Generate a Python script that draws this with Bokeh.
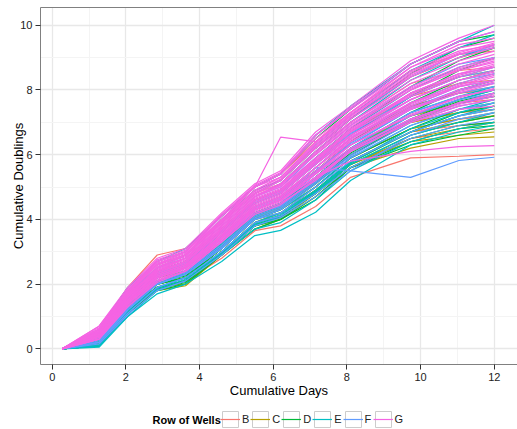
from bokeh.plotting import figure
from bokeh.layouts import column
from bokeh.models import (Range1d, SingleIntervalTicker, FixedTicker, Legend, LegendItem,
                          LinearAxis, Label)
from bokeh.embed import file_html
from bokeh.resources import INLINE

days = [0.27, 1.27, 2.05, 2.85, 3.62, 4.6, 5.5, 6.2, 7.15, 8.1, 9.73, 11.04, 12.0]
rows = ["B", "C", "D", "E", "F", "G"]
row_colors = ["#F8766D", "#B79F00", "#00BA38", "#00BFC4", "#619CFF", "#F564E3"]

B_doublings = [
    [0, 0.6, 1.9, 2.9, 3.1, 4.1, 5.0, 5.4, 6.4, 7.3, 8.6, 9.1, 9.2],
    [0, 0.5, 1.7, 2.6, 2.9, 3.9, 4.8, 5.1, 6.1, 7.0, 8.2, 8.6, 8.7],
    [0, 0.4, 1.6, 2.4, 2.7, 3.7, 4.6, 4.9, 5.8, 6.7, 7.8, 8.2, 8.3],
    [0, 0.3, 1.5, 2.3, 2.6, 3.5, 4.4, 4.7, 5.6, 6.5, 7.5, 7.9, 8.0],
    [0, 0.3, 1.4, 2.2, 2.5, 3.3, 4.2, 4.5, 5.3, 6.2, 7.2, 7.6, 7.7],
    [0, 0.2, 1.3, 2.1, 2.4, 3.2, 4.1, 4.4, 5.1, 6.1, 7.0, 7.3, 7.4],
    [0, 0.2, 1.3, 2.0, 2.3, 3.1, 4.0, 4.3, 5.0, 5.9, 6.8, 7.1, 7.2],
    [0, 0.2, 1.2, 2.0, 2.2, 3.0, 3.9, 4.2, 4.9, 5.8, 6.7, 6.9, 7.0],
    [0, 0.1, 1.2, 1.9, 2.2, 3.0, 3.9, 4.1, 4.8, 5.7, 6.5, 6.7, 6.8],
    [0, 0.1, 1.1, 1.8, 2.1, 2.8, 3.65, 3.8, 4.4, 5.3, 5.9, 5.95, 6.0],
]
C_doublings = [
    [0, 0.5, 1.7, 2.6, 2.9, 4.0, 4.9, 5.2, 6.2, 7.1, 8.4, 9.0, 9.3],
    [0, 0.4, 1.6, 2.4, 2.7, 3.7, 4.6, 4.9, 5.8, 6.7, 7.9, 8.4, 8.6],
    [0, 0.3, 1.5, 2.3, 2.6, 3.5, 4.4, 4.7, 5.5, 6.4, 7.5, 7.9, 8.1],
    [0, 0.3, 1.4, 2.2, 2.4, 3.3, 4.2, 4.5, 5.3, 6.2, 7.2, 7.6, 7.8],
    [0, 0.2, 1.3, 2.1, 2.3, 3.2, 4.1, 4.4, 5.1, 6.0, 7.0, 7.3, 7.5],
    [0, 0.2, 1.3, 2.0, 2.2, 3.1, 4.0, 4.3, 5.0, 5.9, 6.8, 7.1, 7.3],
    [0, 0.2, 1.2, 1.9, 2.1, 3.0, 3.9, 4.2, 4.9, 5.8, 6.7, 7.0, 7.2],
    [0, 0.1, 1.2, 1.9, 2.0, 3.0, 3.8, 4.1, 4.8, 5.7, 6.5, 6.8, 7.0],
    [0, 0.1, 1.1, 1.8, 1.95, 2.9, 3.8, 4.0, 4.8, 5.7, 6.4, 6.6, 6.7],
    [0, 0.2, 1.2, 1.9, 2.0, 2.9, 3.7, 4.0, 4.7, 5.6, 6.2, 6.5, 6.55],
]
D_doublings = [
    [0, 0.5, 1.8, 2.7, 3.0, 4.1, 5.0, 5.4, 6.5, 7.4, 8.8, 9.5, 9.7],
    [0, 0.4, 1.7, 2.5, 2.9, 3.9, 4.8, 5.2, 6.2, 7.1, 8.5, 9.3, 9.6],
    [0, 0.4, 1.6, 2.4, 2.7, 3.7, 4.6, 4.9, 5.9, 6.8, 8.1, 8.9, 9.3],
    [0, 0.3, 1.5, 2.3, 2.6, 3.6, 4.5, 4.8, 5.7, 6.6, 7.8, 8.6, 9.0],
    [0, 0.3, 1.4, 2.2, 2.5, 3.4, 4.3, 4.6, 5.5, 6.4, 7.6, 8.3, 8.6],
    [0, 0.2, 1.4, 2.1, 2.3, 3.3, 4.2, 4.5, 5.3, 6.2, 7.3, 8.0, 8.3],
    [0, 0.2, 1.3, 2.1, 2.3, 3.2, 4.1, 4.4, 5.2, 6.1, 7.1, 7.7, 8.0],
    [0, 0.2, 1.3, 2.0, 2.2, 3.1, 4.0, 4.3, 5.1, 6.0, 7.0, 7.6, 7.8],
    [0, 0.2, 1.2, 2.0, 2.2, 3.1, 4.0, 4.2, 5.0, 5.9, 6.8, 7.4, 7.6],
    [0, 0.1, 1.2, 1.9, 2.1, 3.0, 3.9, 4.1, 4.9, 5.8, 6.7, 7.2, 7.4],
    [0, 0.1, 1.1, 1.9, 2.1, 3.0, 3.8, 4.1, 4.8, 5.7, 6.6, 7.0, 7.2],
    [0, 0.1, 1.2, 1.9, 2.1, 2.9, 3.8, 4.0, 4.7, 5.6, 6.5, 6.9, 7.0],
    [0, 0.1, 1.1, 1.8, 2.0, 2.9, 3.7, 4.0, 4.6, 5.6, 6.4, 6.8, 6.9],
    [0, 0.2, 1.2, 1.9, 2.1, 3.0, 3.8, 4.1, 4.8, 5.6, 6.3, 6.6, 6.8],
    [0, 0.15, 1.15, 1.85, 2.05, 2.95, 3.85, 4.05, 4.85, 5.75, 6.7, 7.3, 7.5],
    [0, 0.25, 1.35, 2.05, 2.25, 3.15, 4.05, 4.35, 5.15, 6.05, 7.05, 7.65, 7.9],
]
E_doublings = [
    [0, 0.6, 1.9, 2.7, 3.1, 4.1, 5.0, 5.4, 6.6, 7.5, 8.8, 9.5, 10.0],
    [0, 0.5, 1.8, 2.6, 2.9, 4.0, 4.9, 5.2, 6.3, 7.2, 8.6, 9.3, 9.7],
    [0, 0.4, 1.7, 2.5, 2.8, 3.8, 4.7, 5.1, 6.1, 7.0, 8.3, 9.0, 9.4],
    [0, 0.4, 1.6, 2.4, 2.7, 3.7, 4.6, 4.9, 5.9, 6.8, 8.0, 8.7, 9.0],
    [0, 0.3, 1.5, 2.3, 2.6, 3.6, 4.5, 4.8, 5.7, 6.6, 7.8, 8.4, 8.7],
    [0, 0.3, 1.5, 2.2, 2.5, 3.5, 4.4, 4.7, 5.6, 6.5, 7.6, 8.2, 8.5],
    [0, 0.2, 1.4, 2.2, 2.5, 3.4, 4.3, 4.6, 5.5, 6.3, 7.4, 8.0, 8.3],
    [0, 0.2, 1.3, 2.1, 2.4, 3.3, 4.2, 4.5, 5.3, 6.2, 7.3, 7.8, 8.1],
    [0, 0.2, 1.3, 2.0, 2.3, 3.2, 4.1, 4.4, 5.2, 6.1, 7.1, 7.6, 7.9],
    [0, 0.2, 1.2, 2.0, 2.3, 3.1, 4.0, 4.3, 5.0, 5.9, 6.9, 7.4, 7.7],
    [0, 0.1, 1.2, 1.9, 2.2, 3.0, 3.9, 4.2, 4.9, 5.8, 6.7, 7.2, 7.5],
    [0, 0.1, 1.1, 1.9, 2.2, 3.0, 3.8, 4.1, 4.8, 5.7, 6.6, 7.0, 7.3],
    [0, 0.1, 1.0, 1.8, 2.1, 2.9, 3.7, 3.9, 4.6, 5.5, 6.4, 6.8, 7.0],
    [0, 0.05, 1.0, 1.7, 2.0, 2.7, 3.5, 3.66, 4.22, 5.2, 6.3, 6.7, 6.9],
    [0, 0.15, 1.15, 1.85, 2.15, 2.95, 3.85, 4.15, 4.85, 5.75, 6.8, 7.3, 7.6],
    [0, 0.25, 1.35, 2.05, 2.35, 3.25, 4.15, 4.45, 5.25, 6.15, 7.2, 7.7, 8.0],
]
F_doublings = [
    [0, 0.6, 1.8, 2.7, 3.0, 4.1, 5.0, 5.4, 6.6, 7.4, 8.8, 9.5, 9.8],
    [0, 0.5, 1.7, 2.5, 2.9, 3.9, 4.8, 5.2, 6.2, 7.1, 8.4, 9.1, 9.3],
    [0, 0.5, 1.6, 2.5, 2.8, 3.8, 4.7, 5.0, 6.0, 6.9, 8.1, 8.8, 9.0],
    [0, 0.4, 1.6, 2.4, 2.7, 3.7, 4.6, 4.9, 5.8, 6.7, 7.9, 8.5, 8.7],
    [0, 0.4, 1.5, 2.3, 2.6, 3.6, 4.5, 4.8, 5.7, 6.6, 7.7, 8.3, 8.5],
    [0, 0.4, 1.5, 2.3, 2.6, 3.5, 4.4, 4.7, 5.6, 6.5, 7.5, 8.1, 8.3],
    [0, 0.3, 1.4, 2.2, 2.5, 3.4, 4.3, 4.6, 5.5, 6.3, 7.4, 7.9, 8.1],
    [0, 0.3, 1.4, 2.2, 2.5, 3.4, 4.2, 4.5, 5.4, 6.2, 7.3, 7.8, 8.0],
    [0, 0.3, 1.3, 2.1, 2.4, 3.3, 4.2, 4.4, 5.3, 6.1, 7.2, 7.7, 7.9],
    [0, 0.3, 1.3, 2.1, 2.4, 3.2, 4.1, 4.4, 5.2, 6.0, 7.1, 7.6, 7.8],
    [0, 0.2, 1.2, 2.0, 2.3, 3.1, 4.0, 4.3, 5.1, 5.9, 6.9, 7.4, 7.6],
    [0, 0.2, 1.2, 2.0, 2.3, 3.1, 4.0, 4.2, 5.0, 5.8, 6.7, 7.2, 7.4],
    [0, 0.2, 1.1, 1.9, 2.2, 3.0, 3.9, 4.1, 4.8, 5.6, 6.5, 6.9, 7.1],
    [0, 0.3, 1.3, 2.1, 2.4, 3.3, 4.3, 4.6, 5.6, 5.5, 5.3, 5.82, 5.92],
    [0, 0.45, 1.55, 2.35, 2.65, 3.65, 4.55, 4.85, 5.75, 6.65, 7.8, 8.4, 8.6],
    [0, 0.35, 1.45, 2.25, 2.55, 3.45, 4.35, 4.65, 5.45, 6.35, 7.45, 8.0, 8.2],
    [0, 0.25, 1.25, 2.05, 2.35, 3.15, 4.05, 4.35, 5.15, 5.95, 7.0, 7.5, 7.7],
    [0, 0.15, 1.05, 1.8, 2.1, 2.9, 3.8, 4.05, 4.7, 5.5, 6.6, 7.1, 7.3],
]
G_doublings = [
    [0, 0.7, 1.9, 2.8, 3.1, 4.2, 5.1, 5.5, 6.7, 7.5, 8.9, 9.6, 10.0],
    [0, 0.7, 1.8, 2.7, 3.0, 4.1, 5.0, 5.4, 6.6, 7.4, 8.7, 9.3, 9.5],
    [0, 0.6, 1.8, 2.7, 3.0, 4.0, 5.0, 5.3, 6.4, 7.3, 8.6, 9.2, 9.4],
    [0, 0.6, 1.7, 2.6, 3.0, 4.0, 4.9, 5.3, 6.3, 7.2, 8.4, 9.0, 9.3],
    [0, 0.6, 1.8, 2.6, 2.9, 3.9, 4.8, 5.2, 6.2, 7.1, 8.3, 8.9, 9.2],
    [0, 0.5, 1.7, 2.6, 2.9, 3.9, 4.8, 5.1, 6.1, 7.0, 8.1, 8.7, 9.0],
    [0, 0.6, 1.6, 2.5, 2.8, 3.8, 4.7, 5.1, 6.0, 6.9, 8.0, 8.6, 8.9],
    [0, 0.5, 1.6, 2.5, 2.8, 3.8, 4.7, 5.0, 5.9, 6.8, 7.9, 8.5, 8.8],
    [0, 0.5, 1.7, 2.4, 2.8, 3.7, 4.6, 4.9, 5.8, 6.8, 7.8, 8.4, 8.7],
    [0, 0.5, 1.6, 2.4, 2.7, 3.7, 4.6, 4.9, 5.8, 6.7, 7.7, 8.3, 8.6],
    [0, 0.5, 1.5, 2.4, 2.7, 3.6, 4.5, 4.8, 5.7, 6.6, 7.6, 8.2, 8.5],
    [0, 0.4, 1.6, 2.3, 2.6, 3.6, 4.5, 4.8, 5.7, 6.5, 7.5, 8.1, 8.4],
    [0, 0.5, 1.5, 2.3, 2.6, 3.5, 4.4, 4.7, 5.6, 6.4, 7.4, 8.0, 8.3],
    [0, 0.4, 1.4, 2.3, 2.6, 3.5, 4.4, 4.7, 5.5, 6.4, 7.4, 7.9, 8.2],
    [0, 0.4, 1.5, 2.2, 2.5, 3.4, 4.3, 4.6, 5.4, 6.3, 7.2, 7.8, 8.0],
    [0, 0.4, 1.4, 2.2, 2.5, 3.4, 4.3, 4.6, 5.4, 6.2, 7.1, 7.6, 7.9],
    [0, 0.3, 1.4, 2.1, 2.4, 3.3, 4.2, 4.5, 5.2, 6.1, 7.0, 7.5, 7.7],
    [0, 0.4, 1.4, 2.2, 2.5, 3.4, 4.3, 4.6, 5.3, 6.1, 7.0, 7.4, 7.5],
    [0, 0.6, 1.8, 2.6, 2.9, 4.0, 5.0, 6.54, 6.4, 7.2, 8.5, 9.1, 9.4],
    [0, 0.4, 1.4, 2.2, 2.5, 3.4, 4.3, 4.6, 5.3, 5.8, 6.1, 6.25, 6.28],
    [0, 0.6, 1.7, 2.7, 3.0, 4.1, 5.0, 5.4, 6.5, 7.3, 8.7, 9.4, 9.6],
    [0, 0.5, 1.6, 2.5, 2.9, 3.9, 4.8, 5.2, 6.2, 7.0, 8.2, 8.8, 9.1],
    [0, 0.4, 1.5, 2.4, 2.7, 3.7, 4.6, 4.9, 5.9, 6.7, 7.9, 8.5, 8.7],
    [0, 0.3, 1.3, 2.1, 2.5, 3.5, 4.4, 4.7, 5.6, 6.5, 7.6, 8.1, 8.3],
    [0, 0.65, 1.85, 2.75, 3.05, 4.15, 5.05, 5.45, 6.6, 7.45, 8.8, 9.5, 9.8],
    [0, 0.55, 1.75, 2.65, 2.95, 3.95, 4.85, 5.25, 6.25, 7.15, 8.45, 9.1, 9.35],
    [0, 0.55, 1.65, 2.55, 2.85, 3.85, 4.75, 5.05, 6.05, 6.95, 8.05, 8.65, 8.95],
    [0, 0.45, 1.65, 2.45, 2.75, 3.75, 4.65, 4.95, 5.85, 6.75, 7.85, 8.45, 8.75],
    [0, 0.45, 1.55, 2.35, 2.65, 3.65, 4.55, 4.85, 5.75, 6.55, 7.55, 8.15, 8.45],
    [0, 0.45, 1.45, 2.25, 2.55, 3.55, 4.45, 4.75, 5.6, 6.45, 7.45, 7.95, 8.25],
    [0, 0.35, 1.45, 2.25, 2.55, 3.45, 4.35, 4.65, 5.45, 6.3, 7.25, 7.75, 8.05],
    [0, 0.35, 1.35, 2.15, 2.45, 3.35, 4.25, 4.55, 5.3, 6.15, 7.1, 7.6, 7.85],
    [0, 0.3, 1.3, 2.05, 2.4, 3.3, 4.15, 4.45, 5.25, 6.1, 7.05, 7.55, 7.8],
    [0, 0.6, 1.75, 2.6, 2.9, 3.95, 4.9, 5.3, 6.35, 7.25, 8.55, 9.15, 9.45],
    [0, 0.5, 1.6, 2.45, 2.8, 3.8, 4.7, 5.05, 6.0, 6.85, 8.0, 8.6, 8.85],
    [0, 0.4, 1.5, 2.35, 2.7, 3.7, 4.6, 4.9, 5.8, 6.6, 7.7, 8.3, 8.55],
]
row_data = [B_doublings, C_doublings, D_doublings, E_doublings, F_doublings, G_doublings]

FONT = "Liberation Sans"

# ---- main plot ----
p = figure(width=517, height=400, output_backend="svg", toolbar_location=None,
           x_range=Range1d(-0.318, 12.63), y_range=Range1d(-0.484, 10.547),
           min_border_left=40, min_border_right=0, min_border_top=7, min_border_bottom=36)

p.background_fill_color = "white"
p.border_fill_color = "white"
p.outline_line_color = None

p.xaxis.ticker = SingleIntervalTicker(interval=2, num_minor_ticks=2)
p.yaxis.ticker = SingleIntervalTicker(interval=2, num_minor_ticks=2)
for g in (p.xgrid, p.ygrid):
    g.grid_line_color = "#E8E8E8"
    g.grid_line_width = 1.3
    g.minor_grid_line_color = "#F4F4F4"
    g.minor_grid_line_width = 1

for ax in (p.xaxis, p.yaxis):
    ax.axis_line_color = "#808080"
    ax.axis_line_width = 1
    ax.major_tick_line_color = "#333333"
    ax.major_tick_out = 5
    ax.major_tick_in = 0
    ax.minor_tick_line_color = None
    ax.major_label_text_font = FONT
    ax.major_label_text_font_size = "11px"
    ax.major_label_text_color = "#222222"
    ax.major_label_standoff = 3
    ax.axis_label_text_font = FONT
    ax.axis_label_text_font_size = "13px"
    ax.axis_label_text_font_style = "normal"
    ax.axis_label_text_color = "#000000"

p.xaxis.axis_label = "Cumulative Days"
p.xaxis.axis_label_standoff = -1
p.yaxis.axis_label = "Cumulative Doublings"
p.yaxis.axis_label_standoff = -9

top_border = LinearAxis(ticker=FixedTicker(ticks=[]), axis_line_color="#808080",
                        major_tick_line_color=None, minor_tick_line_color=None,
                        major_label_text_font_size="0px")
p.add_layout(top_border, "above")

for r, col, lines in zip(rows, row_colors, row_data):
    p.multi_line(xs=[days] * len(lines), ys=lines, line_color=col, line_width=1.2)

# ---- legend strip ----
lg = figure(width=517, height=29, output_backend="svg", toolbar_location=None,
            x_axis_type=None, y_axis_type=None, x_range=Range1d(0, 1), y_range=Range1d(0, 1),
            min_border_left=0, min_border_right=0, min_border_top=0, min_border_bottom=0)
lg.outline_line_color = None
lg.xgrid.visible = False
lg.ygrid.visible = False
lg.background_fill_color = "white"
lg.border_fill_color = "white"

# key glyphs sit outside the strip's visible range; only their legend swatches show
box = lg.rect(x=[5], y=[5], width=1, height=1, fill_color="white", line_color="#CCCCCC", line_width=1)
items = []
for r, col in zip(rows, row_colors):
    key = lg.line(x=[5, 6], y=[5, 5], line_color=col, line_width=1.2)
    items.append(LegendItem(label=r, renderers=[box, key]))

legend = Legend(items=items, location=(180, 0), orientation="horizontal",
                glyph_width=20, glyph_height=20, label_standoff=2, spacing=1,
                label_width=7, label_height=20,
                padding=0, margin=0, border_line_color=None, background_fill_alpha=0,
                label_text_font=FONT, label_text_font_size="11px", label_text_color="#222222")
lg.add_layout(legend)

title = Label(x=112, y=10, x_units="screen", y_units="screen", text="Row of Wells",
              text_font=FONT, text_font_size="11px", text_font_style="bold",
              text_baseline="middle", text_color="#000000")
lg.add_layout(title)

layout = column(p, lg, spacing=0)
open("out.html", "w").write(file_html(layout, INLINE))
